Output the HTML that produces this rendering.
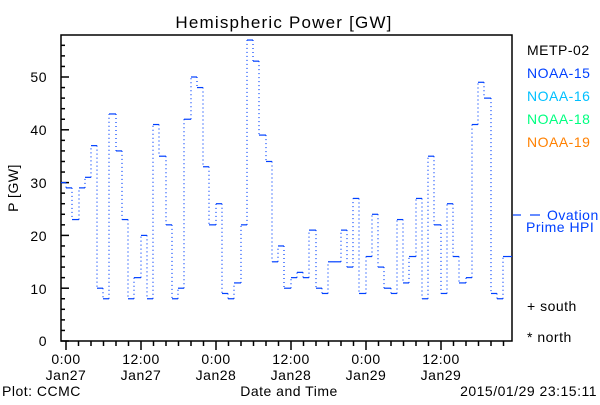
<!DOCTYPE html>
<html><head><style>
body{margin:0;background:#fff;}
svg text{font-family:"Liberation Sans",sans-serif;font-size:14px;letter-spacing:0.5px;}
</style></head><body>
<svg id="s" width="600" height="400" xmlns="http://www.w3.org/2000/svg">
<rect width="600" height="400" fill="#fff"/>
<text x="284" y="28" text-anchor="middle" style="font-size:17px;letter-spacing:1.2px">Hemispheric Power [GW]</text>
<rect x="61" y="35" width="451" height="306" fill="none" stroke="#000" stroke-width="1.5"/>
<g id="ax" stroke="#000" stroke-width="1.5"></g>
<g text-anchor="end">
<text x="47" y="346">0</text><text x="47" y="294">10</text><text x="47" y="241">20</text>
<text x="47" y="188">30</text><text x="47" y="135">40</text><text x="47" y="82">50</text>
</g>
<text x="18" y="188" text-anchor="middle" transform="rotate(-90 18 188)">P [GW]</text>
<g text-anchor="middle">
<text x="66" y="364">0:00</text><text x="66" y="380">Jan27</text>
<text x="141" y="364">12:00</text><text x="141" y="380">Jan27</text>
<text x="216" y="364">0:00</text><text x="216" y="380">Jan28</text>
<text x="291" y="364">12:00</text><text x="291" y="380">Jan28</text>
<text x="366" y="364">0:00</text><text x="366" y="380">Jan29</text>
<text x="441" y="364">12:00</text><text x="441" y="380">Jan29</text>
<text x="289" y="396">Date and Time</text>
</g>
<text x="2" y="396">Plot: CCMC</text>
<text x="597" y="396" text-anchor="end">2015/01/29 23:15:11</text>
<text x="527" y="55">METP-02</text>
<text x="527" y="78" fill="#0040ff">NOAA-15</text>
<text x="527" y="101" fill="#00c0ff">NOAA-16</text>
<text x="527" y="124" fill="#00ff80">NOAA-18</text>
<text x="527" y="147" fill="#ff8000">NOAA-19</text>
<line x1="513" y1="215" x2="521" y2="215" stroke="#0040ff" stroke-width="1.2"/>
<line x1="530" y1="215" x2="540" y2="215" stroke="#0040ff" stroke-width="1.2"/>
<text x="547" y="220" fill="#0040ff">Ovation</text>
<text x="526" y="232" fill="#0040ff">Prime HPI</text>
<text x="527" y="311">+ south</text>
<text x="527" y="342">* north</text>
<g id="d" fill="none" stroke="#0040ff" stroke-width="1.2"></g>
</svg>
<script>
var ns="http://www.w3.org/2000/svg";
function L(g,x1,y1,x2,y2,extra){var l=document.createElementNS(ns,"line");l.setAttribute("x1",x1);l.setAttribute("y1",y1);l.setAttribute("x2",x2);l.setAttribute("y2",y2);if(extra)for(var k in extra)l.setAttribute(k,extra[k]);g.appendChild(l);}
var ax=document.getElementById("ax");
function Y(v){return 341-v*5.28;}
for(var v=0;v<=56;v+=2){var y=Y(v);L(ax,61,y,(v%10==0)?69:65,y);}
for(var h=0;h<=70;h+=2){var x=66+h*6.25;L(ax,x,341,x,(h%12==0)?350:346);}
var xs=[61,66,72,79,85,91,97,103,109,116,122,128,134,141,147,153,159,166,172,178,184,191,197,203,209,216,222,228,234,241,247,253,259,266,272,278,284,291,297,303,309,316,322,328,334,341,347,353,359,366,372,378,384,391,397,403,409,416,422,428,434,441,447,453,459,466,472,478,484,491,497,503,509,512];
var vs=[30,29,23,29,31,37,10,8,43,36,23,8,12,20,8,41,35,22,8,10,42,50,48,33,22,26,9,8,11,22,57,53,39,34,15,18,10,12,13,12,21,10,9,15,15,21,14,27,9,16,24,14,10,9,23,11,16,27,8,35,22,9,26,16,11,12,41,49,46,9,8,16,16];
var d=document.getElementById("d");
for(var i=0;i<vs.length;i++){
 var x1=xs[i],x2=xs[i+1],y=Y(vs[i]);
 L(d,x1,y,x2,y);
 if(i<vs.length-1){L(d,x2,y,x2,Y(vs[i+1]),{"stroke-dasharray":"1 3"});}
}
</script>
</body></html>
